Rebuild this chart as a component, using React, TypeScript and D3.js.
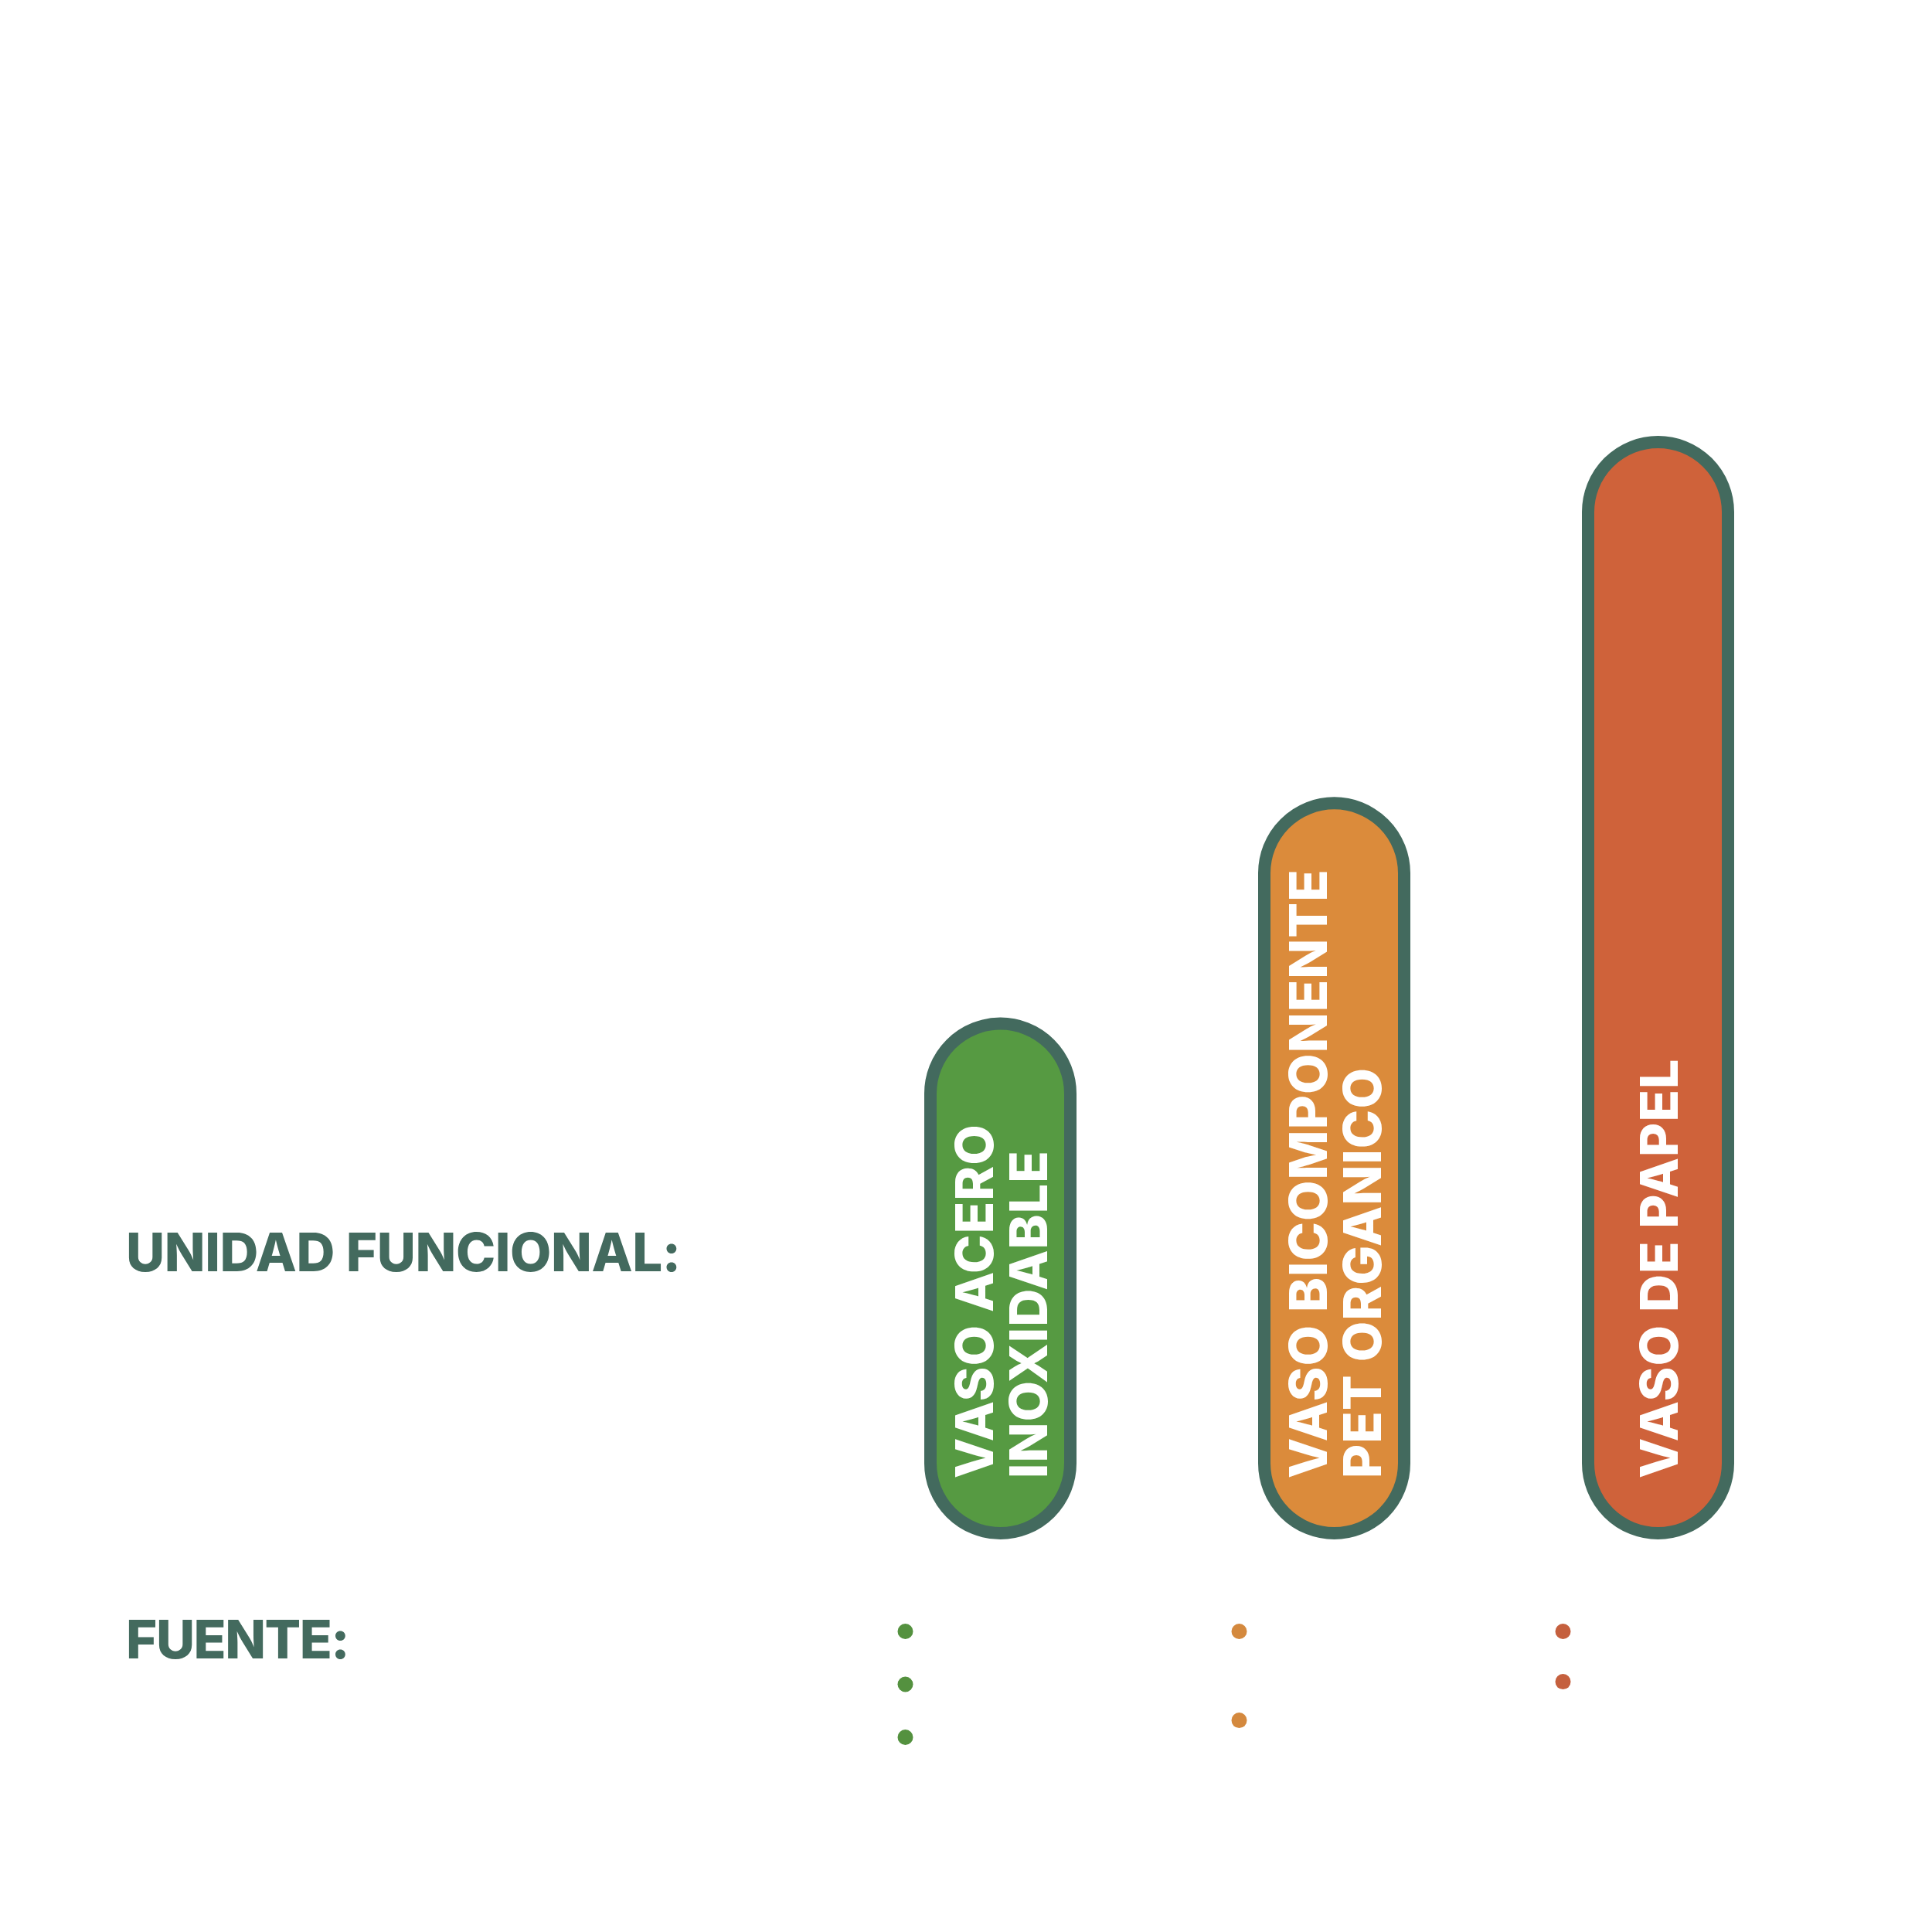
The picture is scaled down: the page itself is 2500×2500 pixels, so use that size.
import React, { useEffect, useRef } from "react";
import * as d3 from "d3";

// vasos comparados (altura relativa de cada barra)
const categories = ["acero", "bicomponente", "papel"];
const values = [46.7, 66.9, 100];
const labels = [
  ["VASO ACERO", "INOXIDABLE"],
  ["VASO BICOMPONENTE", "PET ORGANICO"],
  ["VASO DE PAPEL"],
];
const fills = ["#569A42", "#DB8B3B", "#CF623A"];
const dotColors = ["#54913F", "#D4893E", "#C5603E"];
// bullets of the (empty) source lists, offset in lines
const sourceBullets = [
  [0, 1, 2],
  [0, 1.68],
  [0, 0.95],
];

const W = 2500;
const H = 2500;
const ink = "#436A5E";
const font = "Inter, 'Open Sans', sans-serif";

const App = () => {
  const ref = useRef<SVGSVGElement>(null);

  useEffect(() => {
    drawChart();
  }, []);

  const drawChart = () => {
    const svg = d3.select(ref.current);
    svg.selectAll("*").remove();

    const stroke = 16;
    const barW = 181;

    // bar centres are not evenly spaced in the original layout
    const xi = d3.scaleLinear().domain([0, 1, 2]).range([1294.5, 1726.5, 2145.5]);
    const x = (d: string) => xi(categories.indexOf(d));
    const y = d3.scaleLinear().domain([0, 100]).range([1984, 572]);

    svg.append("rect").attr("width", W).attr("height", H).style("fill", "#fff");

    // titles on the left
    svg
      .append("text")
      .attr("x", 163)
      .attr("y", 1645)
      .text("UNIDAD FUNCIONAL:")
      .style("font-family", font)
      .style("font-weight", 800)
      .style("font-size", "69px")
      .style("letter-spacing", "-0.4px")
      .style("fill", ink);

    svg
      .append("text")
      .attr("x", 163)
      .attr("y", 2146)
      .text("FUENTE:")
      .style("font-family", font)
      .style("font-weight", 800)
      .style("font-size", "69px")
      .style("letter-spacing", "-1.5px")
      .style("fill", ink);

    // pill bars
    const bars = svg
      .append("g")
      .selectAll("g")
      .data(categories)
      .join("g");

    bars
      .append("rect")
      .attr("x", (d) => x(d) - barW / 2)
      .attr("y", (d, i) => y(values[i]))
      .attr("width", barW)
      .attr("height", (d, i) => y(0) - y(values[i]))
      .attr("rx", barW / 2)
      .attr("ry", barW / 2)
      .style("fill", (d, i) => fills[i])
      .style("stroke", ink)
      .style("stroke-width", stroke);

    // rotated labels
    bars.each(function (d, i) {
      const lines = labels[i];
      const g = d3
        .select(this)
        .append("g")
        .attr("transform", `translate(${x(d)}, 1913) rotate(-90)`);
      g.selectAll("text")
        .data(lines)
        .join("text")
        .attr("x", 0)
        .attr("y", (t, j) => (j - (lines.length - 1) / 2) * 70 + 25)
        .text((t) => t)
        .style("font-family", font)
        .style("font-weight", 800)
        .style("font-size", "68px")
        .style("letter-spacing", "1px")
        .style("fill", "#fff");
    });

    // bullets under each bar
    bars.each(function (d, i) {
      d3.select(this)
        .selectAll("circle")
        .data(sourceBullets[i])
        .join("circle")
        .attr("cx", x(d) - 123)
        .attr("cy", (o) => 2111 + o * 68.5)
        .attr("r", 10)
        .style("fill", dotColors[i]);
    });
  };

  return (
    <svg
      ref={ref}
      width={W}
      height={H}
      style={{ position: "absolute", left: 0, top: 0 }}
    />
  );
};

export default App;
